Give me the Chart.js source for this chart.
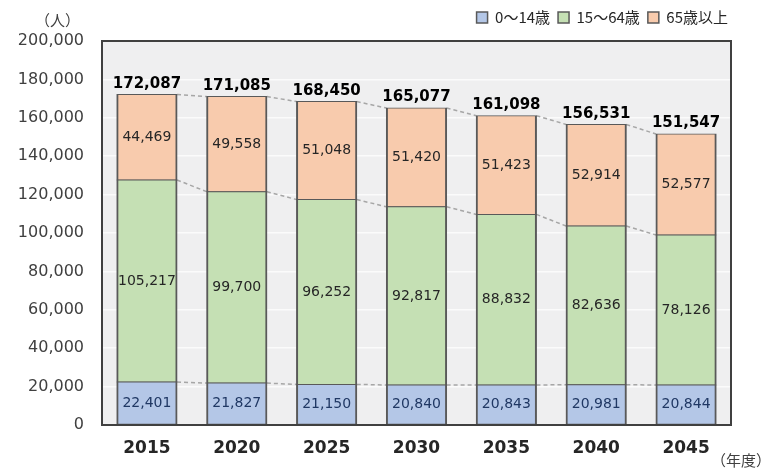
<!DOCTYPE html>
<html>
<head>
<meta charset="utf-8">
<script src="https://cdn.jsdelivr.net/npm/chart.js@4.4.1/dist/chart.umd.min.js"></script>
<style>
  html, body { margin: 0; padding: 0; background: #ffffff; }
  #wrap { position: relative; width: 765px; height: 469px; }
  #c { position: absolute; left: 0; top: 0; }
  .note { position: absolute; font-family: "Noto Sans CJK JP", sans-serif; color: #404040; font-size: 15px; line-height: 1; }
</style>
</head>
<body>
<div id="wrap">
  <canvas id="c" width="765" height="469"></canvas>
  <div class="note" style="left:35px; top:12px;">（人）</div>
  <div class="note" style="left:711px; top:452px;">（年度）</div>
</div>
<script>
const years = ["2015", "2020", "2025", "2030", "2035", "2040", "2045"];
const age0to14 = [22401, 21827, 21150, 20840, 20843, 20981, 20844];
const age15to64 = [105217, 99700, 96252, 92817, 88832, 82636, 78126];
const age65plus = [44469, 49558, 51048, 51420, 51423, 52914, 52577];
const seriesNames = ["0～14歳", "15～64歳", "65歳以上"];
const yTicks = { min: 0, max: 200000, step: 20000 };

const FONT = '"Noto Sans CJK JP", "Noto Sans", sans-serif';
const NUMFONT = '"DejaVu Sans", "Noto Sans CJK JP", sans-serif';
const fmt = v => v.toLocaleString('en-US');

const legendHeight = {
  id: 'legendHeight',
  beforeUpdate(chart) {
    const lg = chart.legend;
    if (lg && !lg._wrappedFit) {
      const orig = lg.fit.bind(lg);
      lg.fit = function () { orig(); this.height = 39; };
      lg._wrappedFit = true;
    }
  },
  afterLayout(chart) {
    const lg = chart.legend;
    if (lg) { lg.left += 5; lg.right += 5; }
  }
};

const plotBg = {
  id: 'plotBg',
  beforeDraw(chart) {
    const { ctx, chartArea: a } = chart;
    ctx.save();
    ctx.fillStyle = '#efeff0';
    ctx.fillRect(a.left, a.top, a.right - a.left, a.bottom - a.top);
    ctx.restore();
  },
  afterDraw(chart) {
    const { ctx, chartArea: a } = chart;
    ctx.save();
    ctx.strokeStyle = '#404040';
    ctx.lineWidth = 2;
    ctx.strokeRect(a.left, a.top, a.right - a.left, a.bottom - a.top);
    ctx.restore();
  }
};

const connectors = {
  id: 'connectors',
  beforeDatasetsDraw(chart) {
    const { ctx } = chart;
    const n = chart.data.datasets.length;
    ctx.save();
    ctx.strokeStyle = '#a6a6a6';
    ctx.lineWidth = 1.5;
    ctx.setLineDash([4, 3]);
    for (let d = 0; d < n; d++) {
      const meta = chart.getDatasetMeta(d);
      for (let i = 0; i < meta.data.length - 1; i++) {
        const b1 = meta.data[i], b2 = meta.data[i + 1];
        ctx.beginPath();
        ctx.moveTo(b1.x + b1.width / 2, b1.y);
        ctx.lineTo(b2.x - b2.width / 2, b2.y);
        ctx.stroke();
      }
    }
    ctx.restore();
  }
};

const labels = {
  id: 'labels',
  afterDatasetsDraw(chart) {
    const { ctx } = chart;
    const n = chart.data.datasets.length;
    ctx.save();
    ctx.textAlign = 'center';
    ctx.textBaseline = 'middle';
    ctx.font = '14px ' + NUMFONT;
    for (let d = 0; d < n; d++) {
      const meta = chart.getDatasetMeta(d);
      const ds = chart.data.datasets[d];
      ctx.fillStyle = d === 0 ? '#203864' : '#262626';
      meta.data.forEach((bar, i) => {
        ctx.fillText(fmt(ds.data[i]), bar.x, (bar.y + bar.base) / 2);
      });
    }
    const top = chart.getDatasetMeta(n - 1);
    ctx.fillStyle = '#000000';
    ctx.font = 'bold 15px ' + NUMFONT;
    ctx.textBaseline = 'bottom';
    top.data.forEach((bar, i) => {
      let total = 0;
      chart.data.datasets.forEach(ds => total += ds.data[i]);
      ctx.fillText(fmt(total), bar.x, bar.y - 3);
    });
    ctx.restore();
  }
};

const common = {
  borderColor: '#595959',
  borderWidth: { top: 1, bottom: 1, left: 2, right: 2 },
  borderSkipped: false,
  inflateAmount: 0.5,
  barPercentage: 0.67,
  categoryPercentage: 1.0
};

new Chart(document.getElementById('c'), {
  type: 'bar',
  data: {
    labels: years,
    datasets: [
      Object.assign({ label: seriesNames[0], data: age0to14, backgroundColor: '#b4c7e7' }, common),
      Object.assign({ label: seriesNames[1], data: age15to64, backgroundColor: '#c5e0b4' }, common),
      Object.assign({ label: seriesNames[2], data: age65plus, backgroundColor: '#f8cbad' }, common)
    ]
  },
  options: {
    responsive: false,
    animation: false,
    layout: { padding: { left: 0, right: 34, top: 2, bottom: 0 } },
    plugins: {
      tooltip: { enabled: false },
      legend: {
        position: 'top',
        align: 'end',
        labels: {
          font: { family: FONT, size: 15 },
          color: '#262626',
          boxWidth: 11,
          boxHeight: 11,
          padding: 8
        }
      }
    },
    scales: {
      x: {
        stacked: true,
        grid: { display: false },
        border: { display: false },
        ticks: { font: { family: NUMFONT, size: 17, weight: 'bold' }, color: '#262626', padding: 5 },
        afterFit(s) { s.height = 44; }
      },
      y: {
        stacked: true,
        min: yTicks.min,
        max: yTicks.max,
        ticks: { stepSize: yTicks.step, callback: v => fmt(v), font: { family: NUMFONT, size: 16 }, color: '#404040', padding: 18 },
        grid: { color: '#fbfbfb', lineWidth: 1.5, drawTicks: false },
        border: { display: false },
        afterFit(s) { s.width = 102; }
      }
    }
  },
  plugins: [legendHeight, plotBg, connectors, labels]
});
</script>
</body>
</html>
